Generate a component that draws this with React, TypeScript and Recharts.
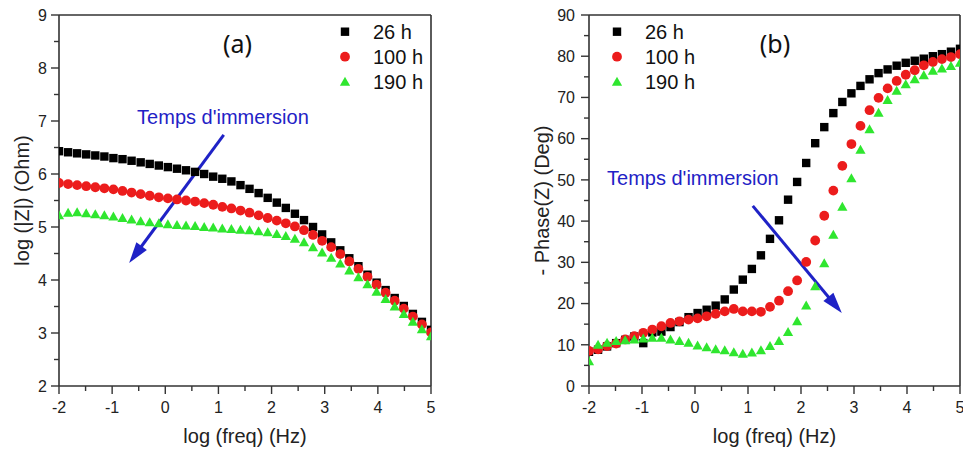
import React from 'react';
import { ScatterChart, Scatter, XAxis, YAxis, ReferenceLine, ReferenceDot, Legend } from 'recharts';

const logFreq = [-2, -1.829, -1.659, -1.488, -1.317, -1.146, -0.976, -0.805, -0.634, -0.463, -0.293, -0.122, 0.049, 0.22, 0.39, 0.561, 0.732, 0.902, 1.073, 1.244, 1.415, 1.585, 1.756, 1.927, 2.098, 2.268, 2.439, 2.61, 2.78, 2.951, 3.122, 3.293, 3.463, 3.634, 3.805, 3.976, 4.146, 4.317, 4.488, 4.659, 4.829, 5];

const modulus26 = [6.43, 6.41, 6.39, 6.37, 6.35, 6.33, 6.30, 6.28, 6.25, 6.22, 6.19, 6.16, 6.13, 6.10, 6.07, 6.04, 6.00, 5.95, 5.91, 5.86, 5.79, 5.72, 5.64, 5.55, 5.46, 5.36, 5.25, 5.13, 5.00, 4.86, 4.71, 4.56, 4.41, 4.26, 4.10, 3.95, 3.81, 3.66, 3.51, 3.36, 3.21, 3.06];
const modulus100 = [5.83, 5.81, 5.79, 5.77, 5.75, 5.73, 5.71, 5.68, 5.65, 5.62, 5.59, 5.56, 5.54, 5.52, 5.50, 5.48, 5.45, 5.42, 5.38, 5.35, 5.31, 5.27, 5.22, 5.17, 5.12, 5.07, 5.01, 4.94, 4.85, 4.74, 4.62, 4.49, 4.35, 4.21, 4.06, 3.91, 3.76, 3.61, 3.46, 3.31, 3.16, 3.01];
const modulus190 = [5.22, 5.27, 5.28, 5.26, 5.24, 5.22, 5.20, 5.17, 5.14, 5.11, 5.09, 5.07, 5.05, 5.04, 5.03, 5.02, 5.00, 4.99, 4.97, 4.96, 4.95, 4.94, 4.92, 4.90, 4.87, 4.83, 4.78, 4.71, 4.62, 4.52, 4.42, 4.31, 4.18, 4.05, 3.92, 3.78, 3.64, 3.50, 3.36, 3.21, 3.07, 2.94];

const phase26 = [8.3, 8.8, 9.6, 10.4, 11.2, 12.0, 10.4, 13.0, 13.2, 14.3, 15.5, 16.7, 17.7, 18.5, 19.5, 21.0, 23.4, 25.8, 28.4, 31.7, 35.7, 40.2, 45.2, 49.5, 54.1, 58.9, 62.8, 66.2, 68.9, 71.0, 72.8, 74.4, 75.9, 76.8, 77.7, 78.4, 78.9, 79.4, 80.0, 80.5, 81.1, 81.8];
const phase100 = [8.5, 8.9, 9.7, 10.3, 11.3, 12.1, 12.9, 13.7, 14.5, 15.3, 15.7, 16.1, 16.4, 16.9, 17.5, 18.1, 18.7, 18.1, 18.1, 18.0, 19.2, 20.7, 23.0, 25.6, 30.1, 35.3, 41.3, 47.4, 53.4, 58.7, 63.1, 66.9, 69.9, 72.2, 74.0, 75.5, 76.6, 77.8, 78.6, 79.3, 79.8, 80.5];
const phase190 = [6.0, 10.0, 10.5, 10.9, 11.1, 11.3, 11.5, 11.7, 11.7, 11.3, 10.9, 10.5, 9.8, 9.4, 8.9, 8.7, 8.2, 7.8, 8.1, 8.7, 9.7, 10.9, 13.1, 15.7, 19.5, 24.2, 29.8, 36.7, 43.5, 50.4, 57.3, 62.3, 66.3, 69.4, 71.6, 73.2, 74.4, 75.4, 76.5, 77.0, 77.6, 78.4];

const seriesNames = ['26 h', '100 h', '190 h'];
const seriesColors = ['#000000', '#ec1c1c', '#2fe62f'];
const seriesShapes = ['square', 'circle', 'triangle'];

const xTicks = [-2, -1.5, -1, -0.5, 0, 0.5, 1, 1.5, 2, 2.5, 3, 3.5, 4, 4.5, 5];
const modulusTicks = [2, 2.5, 3, 3.5, 4, 4.5, 5, 5.5, 6, 6.5, 7, 7.5, 8, 8.5, 9];
const phaseTicks = [0, 5, 10, 15, 20, 25, 30, 35, 40, 45, 50, 55, 60, 65, 70, 75, 80, 85, 90];

const FONT = "'Liberation Sans', Arial, sans-serif";
const AXIS = '#333333';
const BLUE = '#1f22c6';

const toPoints = (ys: number[]) => logFreq.map((x, i) => ({ x, y: ys[i] }));

function Marker({ kind, cx, cy, fill }: { kind: string; cx: number; cy: number; fill: string }) {
  if (kind === 'square') return <rect x={cx - 4.2} y={cy - 4.2} width={8.4} height={8.4} fill={fill} />;
  if (kind === 'circle') return <circle cx={cx} cy={cy} r={4.9} fill={fill} />;
  return <polygon points={`${cx},${cy - 5} ${cx + 5.1},${cy + 4} ${cx - 5.1},${cy + 4}`} fill={fill} />;
}

const makeXTick = (major: (v: number) => boolean) => (p: any) => {
  const { x, y, payload } = p;
  const v = payload.value;
  const isMajor = major(v);
  return (
    <g>
      <line x1={x} x2={x} y1={y} y2={y + (isMajor ? 8 : 5)} stroke={AXIS} strokeWidth={1.4} />
      {isMajor && (
        <text x={x} y={y + 27} textAnchor="middle" fontFamily={FONT} fontSize={16} fill="#222">{String(v)}</text>
      )}
    </g>
  );
};

const makeYTick = (major: (v: number) => boolean, gap: number) => (p: any) => {
  const { x, y, payload } = p;
  const v = payload.value;
  const isMajor = major(v);
  return (
    <g>
      <line x1={x} x2={x - (isMajor ? 8 : 5)} y1={y} y2={y} stroke={AXIS} strokeWidth={1.4} />
      {isMajor && (
        <text x={x - 8 - gap} y={y + 5.8} textAnchor="end" fontFamily={FONT} fontSize={16} fill="#222">{String(v)}</text>
      )}
    </g>
  );
};

const arrowShape = (p: any) => {
  const { x1, y1, x2, y2 } = p;
  const dx = x2 - x1;
  const dy = y2 - y1;
  const len = Math.sqrt(dx * dx + dy * dy);
  const ux = dx / len;
  const uy = dy / len;
  const hl = 21;
  const hw = 6.5;
  const bx = x2 - ux * hl;
  const by = y2 - uy * hl;
  return (
    <g>
      <line x1={x1} y1={y1} x2={bx + ux * 2} y2={by + uy * 2} stroke={BLUE} strokeWidth={3} />
      <polygon points={`${x2},${y2} ${bx - uy * hw},${by + ux * hw} ${bx + uy * hw},${by - ux * hw}`} fill={BLUE} />
    </g>
  );
};

const textShape = (content: string, size: number, family: string, anchor: string, color: string) => (p: any) => (
  <text x={p.cx} y={p.cy} textAnchor={anchor as any} fontFamily={family} fontSize={size} fill={color}>{content}</text>
);

function LegendBox() {
  return (
    <svg width={130} height={80}>
      {seriesNames.map((n, i) => (
        <g key={n}>
          <Marker kind={seriesShapes[i]} cx={15} cy={16.7 + i * 25} fill={seriesColors[i]} />
          <text x={43} y={16.7 + i * 25 + 7} fontFamily={FONT} fontSize={20} fill="#111">{n}</text>
        </g>
      ))}
    </svg>
  );
}

type PanelProps = {
  left: number;
  width: number;
  yAxisWidth: number;
  rightMargin: number;
  yDomain: [number, number];
  yTicks: number[];
  yMajor: (v: number) => boolean;
  yGap: number;
  series: number[][];
  yTitle: string;
  yTitleX: number;
  panelText: string;
  panelPos: { x: number; y: number };
  legendLeft: number;
  annPos: { x: number; y: number };
  arrow: { x: number; y: number }[];
};

function Panel(props: PanelProps) {
  const { left, width, yAxisWidth, rightMargin, yDomain, yTicks, yMajor, yGap, series, yTitle, yTitleX, panelText, panelPos, legendLeft, annPos, arrow } = props;
  const height = 452;
  const top = 15;
  const xAxisHeight = 66;
  const plotCx = yAxisWidth + (width - yAxisWidth - rightMargin) / 2;
  const plotCy = top + (height - top - xAxisHeight) / 2;
  return (
    <div style={{ position: 'absolute', left, top: 0, width, height }}>
      <ScatterChart width={width} height={height} margin={{ top, right: rightMargin, bottom: 0, left: 0 }}>
        <XAxis
          type="number"
          dataKey="x"
          domain={[-2, 5]}
          ticks={xTicks}
          interval={0}
          allowDataOverflow
          height={xAxisHeight}
          tickSize={0}
          tickMargin={0}
          tickLine={false}
          axisLine={{ stroke: AXIS, strokeWidth: 1.6 }}
          tick={makeXTick((v) => Number.isInteger(v))}
          label={{
            content: () => (
              <text x={plotCx} y={443} textAnchor="middle" fontFamily={FONT} fontSize={20} fill="#222">log (freq) (Hz)</text>
            ),
          }}
        />
        <YAxis
          type="number"
          dataKey="y"
          domain={yDomain}
          ticks={yTicks}
          interval={0}
          allowDataOverflow
          width={yAxisWidth}
          tickSize={0}
          tickMargin={0}
          tickLine={false}
          axisLine={{ stroke: AXIS, strokeWidth: 1.6 }}
          tick={makeYTick(yMajor, yGap)}
          label={{
            content: () => (
              <text
                x={yTitleX}
                y={plotCy}
                textAnchor="middle"
                fontFamily={FONT}
                fontSize={20}
                fill="#222"
                transform={`rotate(-90, ${yTitleX}, ${plotCy})`}
              >
                {yTitle}
              </text>
            ),
          }}
        />
        <ReferenceLine y={yDomain[1]} stroke={AXIS} strokeWidth={1.6} />
        <ReferenceLine x={5} stroke={AXIS} strokeWidth={1.6} />
        {series.map((ys, i) => (
          <Scatter
            key={seriesNames[i]}
            name={seriesNames[i]}
            data={toPoints(ys)}
            fill={seriesColors[i]}
            isAnimationActive={false}
            shape={(p: any) => <Marker kind={seriesShapes[i]} cx={p.cx} cy={p.cy} fill={seriesColors[i]} />}
          />
        ))}
        <ReferenceLine segment={arrow} shape={arrowShape} />
        <ReferenceDot x={annPos.x} y={annPos.y} r={0} shape={textShape("Temps d'immersion", 20, FONT, 'start', BLUE)} />
        <ReferenceDot x={panelPos.x} y={panelPos.y} r={0} shape={textShape(panelText, 25, "'Noto Sans', 'Open Sans', sans-serif", 'middle', '#111')} />
        <Legend
          layout="vertical"
          align="center"
          verticalAlign="middle"
          wrapperStyle={{ position: 'absolute', left: legendLeft, top: 15, width: 130, height: 80 }}
          content={() => <LegendBox />}
        />
      </ScatterChart>
    </div>
  );
}

export default function App() {
  return (
    <div style={{ position: 'absolute', left: 0, top: 0, width: 963, height: 452, background: '#fff' }}>
      <Panel
        left={0}
        width={490}
        yAxisWidth={59}
        rightMargin={59}
        yDomain={[2, 9]}
        yTicks={modulusTicks}
        yMajor={(v) => Number.isInteger(v)}
        yGap={4}
        series={[modulus26, modulus100, modulus190]}
        yTitle="log (|Z|) (Ohm)"
        yTitleX={29}
        panelText="(a)"
        panelPos={{ x: 1.36, y: 8.28 }}
        legendLeft={330}
        annPos={{ x: -0.53, y: 6.94 }}
        arrow={[{ x: 1.1, y: 6.74 }, { x: -0.68, y: 4.32 }]}
      />
      <Panel
        left={490}
        width={473}
        yAxisWidth={99}
        rightMargin={3}
        yDomain={[0, 90]}
        yTicks={phaseTicks}
        yMajor={(v) => v % 10 === 0}
        yGap={6}
        series={[phase26, phase100, phase190]}
        yTitle="- Phase(Z) (Deg)"
        yTitleX={59}
        panelText="(b)"
        panelPos={{ x: 1.51, y: 80.8 }}
        legendLeft={112}
        annPos={{ x: -1.66, y: 48.8 }}
        arrow={[{ x: 1.09, y: 43.7 }, { x: 2.77, y: 17.7 }]}
      />
    </div>
  );
}
